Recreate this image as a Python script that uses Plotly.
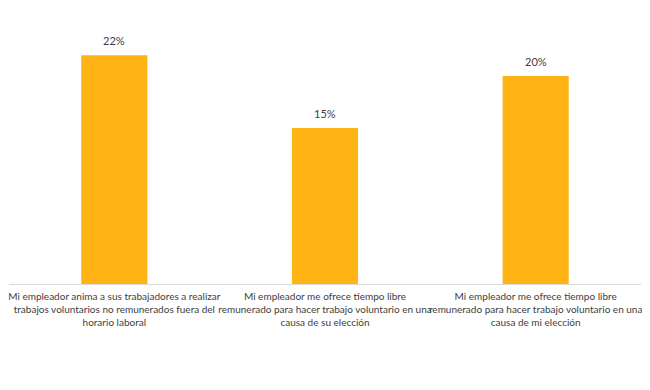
import plotly.graph_objects as go

categories = [
    "Mi empleador anima a sus trabajadores a realizar<br>trabajos voluntarios no remunerados fuera del<br>horario laboral",
    "Mi empleador me ofrece tiempo libre<br>remunerado para hacer trabajo voluntario en una<br>causa de su elección",
    "Mi empleador me ofrece tiempo libre<br>remunerado para hacer trabajo voluntario en una<br>causa de mi elección",
]
values = [22, 15, 20]
labels = [f"{v}%" for v in values]

fig = go.Figure(go.Bar(
    x=categories, y=values,
    marker=dict(color="#FFB314", line=dict(width=0)),
    width=0.314,
))
for c, v, t in zip(categories, values, labels):
    fig.add_annotation(x=c, y=v, text=t, showarrow=False, yanchor="bottom",
                       yshift=6, font=dict(size=11, color="#404040", family="Lato"))
fig.update_layout(
    width=642, height=382,
    margin=dict(l=1, r=9, t=16, b=106, autoexpand=False),
    paper_bgcolor="white", plot_bgcolor="white",
    showlegend=False,
    font=dict(family="Lato", size=10, color="#404040"),
    xaxis=dict(showline=True, linecolor="#D9D9D9", linewidth=1, ticks="",
               tickangle=0, automargin=False, ticklabelstandoff=3,
               tickfont=dict(size=10, color="#404040"), showgrid=False),
    yaxis=dict(range=[0, 25], visible=False, showgrid=False, automargin=False),
    bargap=0.686,
)
fig.write_html("out.html")
